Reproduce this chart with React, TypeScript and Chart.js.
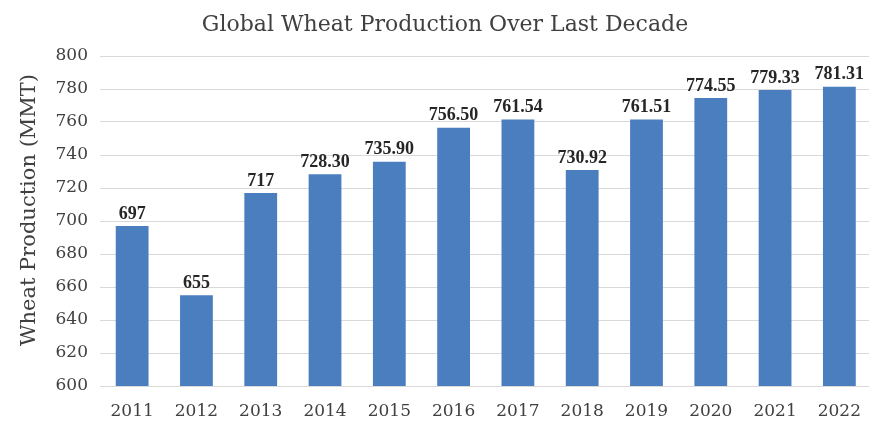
import React, { useEffect, useRef } from "react";
import { Chart, registerables } from "chart.js";

Chart.register(...registerables);

const years = ["2011", "2012", "2013", "2014", "2015", "2016", "2017", "2018", "2019", "2020", "2021", "2022"];
const production = [697, 655, 717, 728.3, 735.9, 756.5, 761.54, 730.92, 761.51, 774.55, 779.33, 781.31];
const valueLabels = ["697", "655", "717", "728.30", "735.90", "756.50", "761.54", "730.92", "761.51", "774.55", "779.33", "781.31"];
const chartTitle = "Global Wheat Production Over Last Decade";
const yTitle = "Wheat Production (MMT)";

const labelPlugin = {
  id: "valueLabels",
  afterDatasetsDraw(chart: any) {
    const ctx = chart.ctx;
    const meta = chart.getDatasetMeta(0);
    ctx.save();
    ctx.font = "bold 18px 'Liberation Serif'";
    ctx.fillStyle = "#262626";
    ctx.textAlign = "center";
    ctx.textBaseline = "bottom";
    meta.data.forEach((bar: any, i: number) => {
      ctx.fillText(valueLabels[i], bar.x, bar.y - 3);
    });
    ctx.restore();
  },
};

const titlesPlugin = {
  id: "titles",
  afterDraw(chart: any) {
    const ctx = chart.ctx;
    ctx.save();
    ctx.fillStyle = "#404040";
    ctx.textAlign = "center";
    ctx.textBaseline = "middle";
    ctx.font = "22px 'DejaVu Serif'";
    ctx.fillText(chartTitle, 445, 25);
    ctx.translate(30, 210);
    ctx.rotate(-Math.PI / 2);
    ctx.font = "21px 'DejaVu Serif'";
    ctx.fillText(yTitle, 0, 0);
    ctx.restore();
  },
};

export default function App() {
  const ref = useRef<HTMLCanvasElement>(null);
  useEffect(() => {
    document.body.style.margin = "0";
    const chart = new Chart(ref.current!, {
      type: "bar",
      data: {
        labels: years,
        datasets: [
          {
            data: production,
            backgroundColor: "#4a7ebf",
            borderWidth: 0,
            barPercentage: 0.51,
            categoryPercentage: 1,
          },
        ],
      },
      options: {
        animation: false,
        responsive: false,
        maintainAspectRatio: false,
        layout: { padding: { left: 0, right: 0, top: 56, bottom: 0 } },
        plugins: {
          legend: { display: false },
          tooltip: { enabled: false },
          title: { display: false },
        },
        scales: {
          x: {
            grid: { display: false, drawTicks: false },
            border: { display: false },
            ticks: {
              color: "#404040",
              font: { family: "'DejaVu Serif'", size: 17 },
              padding: 15,
              maxRotation: 0,
              autoSkip: false,
            },
            afterFit(scale: any) {
              scale.height = 35;
            },
          },
          y: {
            min: 600,
            max: 800,
            ticks: {
              stepSize: 20,
              color: "#404040",
              font: { family: "'DejaVu Serif'", size: 17 },
              padding: 12,
            },
            grid: { color: "#d9d9d9", lineWidth: 1, drawTicks: false },
            border: { display: false },
            afterFit(scale: any) {
              scale.width = 100;
            },
          },
        },
      },
      plugins: [labelPlugin, titlesPlugin],
    });
    return () => chart.destroy();
  }, []);
  return (
    <div style={{ width: 869, height: 421, background: "#fff", overflow: "hidden" }}>
      <canvas ref={ref} width={876} height={421} style={{ display: "block" }} />
    </div>
  );
}
